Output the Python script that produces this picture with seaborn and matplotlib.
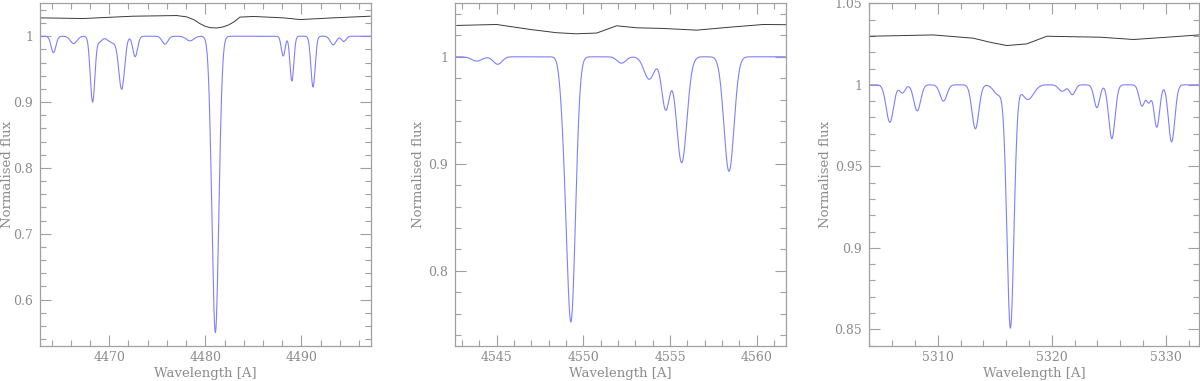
import numpy as np
import pandas as pd
import matplotlib
matplotlib.use("Agg")
import matplotlib.pyplot as plt
import seaborn as sns
from matplotlib.ticker import MultipleLocator

# ---------------- data ----------------
# Panel 1 (He I 4471 / Mg II 4481 region)
p1_xlim = (4462.8, 4497.2)
p1_ylim = (0.53, 1.05)
p1_line_center = [4464.2, 4466.3, 4468.27, 4469.0, 4470.4, 4471.3, 4472.7, 4475.8, 4478.4, 4481.04, 4488.1, 4489.0, 4491.2, 4493.3, 4494.4]
p1_line_depth  = [0.025, 0.011, 0.100, 0.008, 0.010, 0.078, 0.031, 0.012, 0.007, 0.450, 0.030, 0.068, 0.077, 0.013, 0.008]
p1_line_width  = [0.25, 0.35, 0.24, 0.25, 0.55, 0.30, 0.25, 0.30, 0.40, 0.36, 0.20, 0.20, 0.22, 0.30, 0.25]
p1_comp_wave = [4462.78, 4467.29, 4472.5, 4477.02, 4478.06, 4478.8, 4479.45, 4480.0, 4480.5, 4481.2,
                4481.8, 4482.4, 4483.0, 4483.6, 4485.0, 4488.13, 4489.86, 4493.33, 4497.16]
p1_comp_flux = [1.0279, 1.0269, 1.0304, 1.0314, 1.0294, 1.0250, 1.0190, 1.0150, 1.0130, 1.0125,
                1.0140, 1.0170, 1.0220, 1.0290, 1.0300, 1.0279, 1.0253, 1.0279, 1.0304]
p1_yticks = [0.6, 0.7, 0.8, 0.9, 1.0]
p1_xticks = [4470, 4480, 4490]

# Panel 2 (Si III 4552 region)
p2_xlim = (4542.6, 4561.67)
p2_ylim = (0.73, 1.05)
p2_line_center = [4543.85, 4545.06, 4548.85, 4549.29, 4552.2, 4553.8, 4554.75, 4555.67, 4558.4]
p2_line_depth  = [0.004, 0.007, 0.030, 0.245, 0.006, 0.021, 0.049, 0.099, 0.107]
p2_line_width  = [0.30, 0.25, 0.20, 0.26, 0.25, 0.30, 0.23, 0.30, 0.29]
p2_comp_wave = [4542.69, 4545.0, 4546.92, 4548.46, 4549.6, 4550.77, 4551.92, 4553.08, 4554.6, 4556.54, 4558.46, 4560.38, 4561.67]
p2_comp_flux = [1.0293, 1.0302, 1.0256, 1.0225, 1.0215, 1.0222, 1.0290, 1.0271, 1.0265, 1.0249, 1.0277, 1.0302, 1.0300]
p2_yticks = [0.8, 0.9, 1.0]
p2_xticks = [4545, 4550, 4555, 4560]

# Panel 3 (5316 region)
p3_xlim = (5304.0, 5332.9)
p3_ylim = (0.84, 1.05)
p3_line_center = [5305.8, 5306.9, 5308.2, 5310.5, 5313.3, 5315.3, 5316.37, 5317.9, 5320.9, 5321.8, 5323.95, 5325.26, 5327.9, 5328.5, 5329.2, 5330.5]
p3_line_depth  = [0.023, 0.005, 0.016, 0.010, 0.027, 0.006, 0.149, 0.009, 0.004, 0.006, 0.014, 0.033, 0.013, 0.010, 0.026, 0.035]
p3_line_width  = [0.32, 0.25, 0.30, 0.30, 0.30, 0.40, 0.31, 0.50, 0.30, 0.25, 0.25, 0.28, 0.25, 0.20, 0.25, 0.28]
p3_comp_wave = [5304.06, 5309.6, 5313.12, 5314.59, 5316.05, 5317.8, 5319.56, 5324.24, 5327.16, 5330.09, 5332.9]
p3_comp_flux = [1.0298, 1.0306, 1.0286, 1.0261, 1.0241, 1.0251, 1.0298, 1.0292, 1.0278, 1.0292, 1.0306]
p3_yticks = [0.85, 0.9, 0.95, 1.0, 1.05]
p3_xticks = [5310, 5320, 5330]

BLUE = "#7f7fff"
DARK = "#3a3a3a"
GREY = "#8c8c8c"


def spectrum(xlim, centers, depths, widths):
    w = np.arange(xlim[0], xlim[1] + 0.01, 0.01)
    f = np.ones_like(w)
    for c, d, s in zip(centers, depths, widths):
        f -= d * np.exp(-0.5 * ((w - c) / s) ** 2)
    return pd.DataFrame({"wave": w, "flux": f})


sns.set_theme(style="ticks")
plt.rcParams["font.family"] = ["DejaVu Serif"]

fig = plt.figure(figsize=(12, 3.81), dpi=100)
lefts = [40 / 1200, 455 / 1200, 869.3 / 1200]
widths = [330.7 / 1200, 330.7 / 1200, (1199 - 869.3) / 1200]
bottom = 1 - 345.7 / 381
height = (345.7 - 3.3) / 381
ylabel_x = [-0.08, -0.092, -0.113]

panels = [
    (p1_xlim, p1_ylim, p1_line_center, p1_line_depth, p1_line_width, p1_comp_wave, p1_comp_flux,
     p1_xticks, p1_yticks, 2, 0.02, ["0.6", "0.7", "0.8", "0.9", "1"]),
    (p2_xlim, p2_ylim, p2_line_center, p2_line_depth, p2_line_width, p2_comp_wave, p2_comp_flux,
     p2_xticks, p2_yticks, 1, 0.02, ["0.8", "0.9", "1"]),
    (p3_xlim, p3_ylim, p3_line_center, p3_line_depth, p3_line_width, p3_comp_wave, p3_comp_flux,
     p3_xticks, p3_yticks, 2, 0.01, ["0.85", "0.9", "0.95", "1", "1.05"]),
]

for i, (xl, yl, lc, ld, lw, cw, cf, xt, yt, xminor, yminor, ylabels) in enumerate(panels):
    ax = fig.add_axes([lefts[i], bottom, widths[i], height])
    df = spectrum(xl, lc, ld, lw)
    sns.lineplot(data=df, x="wave", y="flux", ax=ax, color=BLUE, lw=0.8,
                 estimator=None, sort=False)
    comp = pd.DataFrame({"wave": cw, "flux": cf})
    sns.lineplot(data=comp, x="wave", y="flux", ax=ax, color=DARK, lw=0.7,
                 estimator=None, sort=False)
    ax.set_xlim(*xl)
    ax.set_ylim(*yl)
    ax.set_xticks(xt)
    ax.set_xticklabels([str(v) for v in xt])
    ax.set_yticks(yt)
    ax.set_yticklabels(ylabels)
    ax.xaxis.set_minor_locator(MultipleLocator(xminor))
    ax.yaxis.set_minor_locator(MultipleLocator(yminor))
    ax.tick_params(which="both", direction="in", top=True, right=True,
                   color="#a0a0a0", width=0.8, labelcolor=GREY, labelsize=9)
    ax.tick_params(axis="x", which="both", pad=4)
    ax.tick_params(axis="y", which="both", pad=5)
    ax.tick_params(which="major", length=8)
    ax.tick_params(which="minor", length=4)
    for s in ax.spines.values():
        s.set_color("#a0a0a0")
        s.set_linewidth(0.9)
    ax.set_xlabel("Wavelength [A]", color=GREY, fontsize=9.5)
    ax.xaxis.set_label_coords(0.5, -0.062)
    ax.set_ylabel("Normalised flux", color=GREY, fontsize=9.5)
    ax.yaxis.set_label_coords(ylabel_x[i], 0.5)

fig.savefig("out.png", dpi=100)
